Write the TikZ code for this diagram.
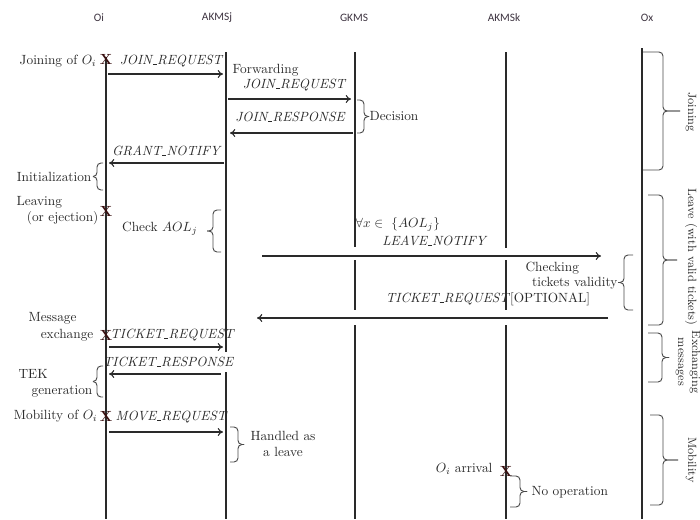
\documentclass[tikz,border=0pt]{standalone}
\usepackage{fontspec}
\newfontfamily\headfont{Carlito}
\usetikzlibrary{arrows.meta}
\definecolor{ink}{HTML}{2a2a2a}
\definecolor{headc}{HTML}{3d3340}
\definecolor{xmark}{HTML}{3a1010}
% short low rule used inside message names
\newcommand\uscore{\leavevmode\kern.06em\vbox{\hrule width.3em}\kern.02em}
\tikzset{
  lifeline/.style={line width=1.3pt, draw=ink},
  msg/.style={draw=ink, line width=0.8pt, -{To[length=4pt,width=6pt]}},
  msglabel/.style={font=\itshape, text=ink, inner sep=1pt},
  note/.style={text=ink, inner sep=1pt},
  header/.style={font=\headfont\fontsize{8.5}{10}\selectfont, text=headc},
  bracestyle/.style={draw=ink!85, line width=0.7pt, rounded corners=3pt},
  phase/.style={rotate=-90, text=ink, inner sep=1pt, align=center,
                font=\fontsize{9}{10.5}\selectfont},
  xcross/.style={font=\fontsize{11}{11}\selectfont\bfseries, text=xmark, inner sep=0pt},
}
% vertical brace: x, top y, bottom y, depth of the arms, length of the tip
\newcommand\phasebrace[5]{%
  \draw[bracestyle] (#1,#2) -| ({#1+#4},{(#2+#3)/2}) -- ({#1+#4+#5},{(#2+#3)/2});
  \draw[bracestyle] (#1,#3) -| ({#1+#4},{(#2+#3)/2}) -- ({#1+#4+#5},{(#2+#3)/2});
}
\begin{document}
\begin{tikzpicture}[x=0.75pt, y=-0.75pt]
\useasboundingbox (0,0) rectangle (700,519);

% participants
\node[header] (hOi)  at (99,18)  {Oi};
\node[header] (hAj)  at (217,18) {AKMSj};
\node[header] (hG)   at (354,18) {GKMS};
\node[header] (hAk)  at (504,18) {AKMSk};
\node[header] (hOx)  at (647,18) {Ox};

% lifelines
\draw[lifeline] (106,57) -- (106,519);
\draw[lifeline] (226,52) -- (226,352);
\draw[lifeline] (226,372) -- (226,519);
\draw[lifeline] (355,52) -- (355,247);
\draw[lifeline] (355,260) -- (355,310);
\draw[lifeline] (355,325) -- (355,519);
\draw[lifeline] (506,52) -- (506,248);
\draw[lifeline] (506,260) -- (506,310);
\draw[lifeline] (506,325) -- (506,519);
\draw[lifeline] (642,48) -- (642,519);

% events on the lifelines
\node[xcross] (xJoin)  at (106,59)  {X};
\node[xcross] (xLeave) at (106,211) {X};
\node[xcross] (xMsg)   at (106,335) {X};
\node[xcross] (xMove)  at (106,416) {X};
\node[xcross] (xArr)   at (506,471) {X};

% joining
\node[note, anchor=east] (tJoin) at (98,61) {Joining of $O_i$};
\node[msglabel] (lJr1) at (171,61) {JOIN\uscore REQUEST};
\coordinate (m1a) at (108,74);  \coordinate (m1b) at (223,74);
\draw[msg] (m1a) -- (m1b);
\node[note, anchor=west] (tFwd) at (231,70) {Forwarding};
\node[msglabel] (lJr2) at (294,85) {JOIN\uscore REQUEST};
\coordinate (m2a) at (228,99);  \coordinate (m2b) at (351,99);
\draw[msg] (m2a) -- (m2b);
\node[msglabel] (lJres) at (290,117) {JOIN\uscore RESPONSE};
\coordinate (m3a) at (353,133); \coordinate (m3b) at (230,133);
\draw[msg] (m3a) -- (m3b);
\phasebrace{357}{100}{133}{7}{5}
\node[note, anchor=west] (tDec) at (368,116) {Decision};
\node[msglabel] (lGrant) at (166,151) {GRANT\uscore NOTIFY};
\coordinate (m4a) at (224,163); \coordinate (m4b) at (109,163);
\draw[msg] (m4a) -- (m4b);
\phasebrace{103}{163}{190}{-6}{-4}
\node[note, anchor=east] (tInit) at (93,177) {Initialization};

% leaving
\node[note, anchor=west] (tLeave) at (15,202) {Leaving};
\node[note, anchor=east] (tEject) at (100,218) {(or ejection)};
\node[note, anchor=east] (tCheck) at (199,229) {Check $AOL_j$};
\phasebrace{221}{210}{252}{-8}{-6}
\node[note, anchor=west] (tForall) at (354,224) {$\forall x \in\ \{AOL_j\}$};
\node[msglabel] (lLeave) at (434,241) {LEAVE\uscore NOTIFY};
\coordinate (m5a) at (262,256); \coordinate (m5b) at (601,256);
\draw[msg] (m5a) -- (m5b);
\node[note, anchor=west] (tChk1) at (524,268) {Checking};
\node[note, anchor=east] (tChk2) at (619,283) {tickets validity};
\phasebrace{633}{255}{310}{-9}{-6}
\node[note] (lTreqOpt) at (488,299) {\textit{TICKET\uscore REQUEST}[OPTIONAL]};
\coordinate (m6a) at (608,318); \coordinate (m6b) at (257,318);
\draw[msg] (m6a) -- (m6b);

% message exchange
\node[note, anchor=west] (tMsg1) at (27,318) {Message};
\node[note, anchor=east] (tMsg2) at (95,335) {exchange};
\node[msglabel] (lTreq) at (172,335) {TICKET\uscore REQUEST};
\coordinate (m7a) at (109,347); \coordinate (m7b) at (223,347);
\draw[msg] (m7a) -- (m7b);
\node[msglabel] (lTres) at (168,362) {TICKET\uscore RESPONSE};
\coordinate (m8a) at (221,374); \coordinate (m8b) at (109,374);
\draw[msg] (m8a) -- (m8b);
\node[note, anchor=west] (tTek1) at (17,374) {TEK};
\node[note, anchor=east] (tTek2) at (94,391) {generation};
\phasebrace{103}{366}{397}{-6}{-4}

% mobility
\node[note, anchor=east] (tMob) at (99,416) {Mobility of $O_i$};
\node[msglabel] (lMove) at (171,417) {MOVE\uscore REQUEST};
\coordinate (m9a) at (109,432); \coordinate (m9b) at (223,432);
\draw[msg] (m9a) -- (m9b);
\phasebrace{230}{427}{462}{8}{6}
\node[note] (tHand1) at (283,436) {Handled as};
\node[note] (tHand2) at (283,452) {a leave};
\node[note, anchor=east] (tArr) at (494,469) {$O_i$ arrival};
\phasebrace{510}{476}{507}{10}{7}
\node[note, anchor=west] (tNoop) at (530,492) {No operation};

% phases
\phasebrace{643}{52}{170}{20}{17}
\node[phase] (pJoin) at (691,112) {Joining};
\phasebrace{648}{195}{325}{15}{14}
\node[phase] (pLeave) at (691,257) {Leave (with valid tickets)};
\phasebrace{648}{333}{382}{14}{7}
\node[phase] (pExch) at (688,362) {Exchanging\\messages};
\phasebrace{650}{415}{505}{13}{15}
\node[phase] (pMob) at (691,460) {Mobility};
\end{tikzpicture}
\end{document}
